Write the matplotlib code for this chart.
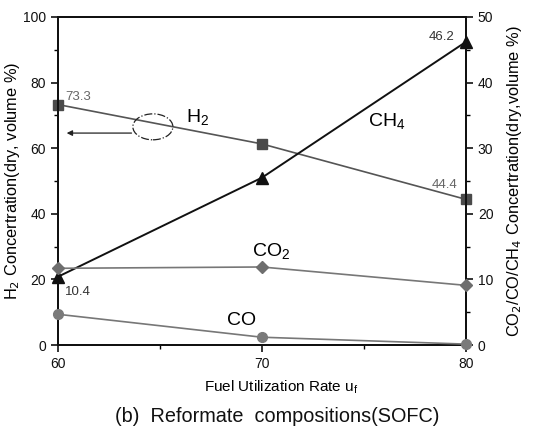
import matplotlib
matplotlib.use("Agg")
import matplotlib.pyplot as plt
from matplotlib.patches import Ellipse
from matplotlib.ticker import MultipleLocator

plt.rcParams['font.family'] = ['Liberation Sans', 'DejaVu Sans']

uf = [60, 70, 80]
h2 = [73.3, 61.3, 44.4]     # left axis
ch4 = [10.4, 25.5, 46.2]    # right axis
co2 = [11.7, 11.9, 9.1]
co = [4.7, 1.2, 0.15]

fig = plt.figure(figsize=(5.45, 4.33), dpi=100)
ax = fig.add_axes([0.106, 0.203, 0.749, 0.758])
ax2 = ax.twinx()

ax.plot(uf, h2, color='#555555', lw=1.2, marker='s', ms=7, mfc='#4a4a4a', mec='#4a4a4a',
        zorder=3, clip_on=False)
ax2.plot(uf, ch4, color='#111111', lw=1.4, marker='^', ms=8, mfc='#111111', mec='#111111',
         zorder=3, clip_on=False)
ax2.plot(uf, co2, color='#777777', lw=1.2, marker='D', ms=6.5, mfc='#6e6e6e', mec='#6e6e6e',
         zorder=3, clip_on=False)
ax2.plot(uf, co, color='#777777', lw=1.2, marker='o', ms=7, mfc='#7a7a7a', mec='#7a7a7a',
         zorder=3, clip_on=False)

ax.set_xlim(60, 80)
ax.set_ylim(0, 100)
ax2.set_ylim(0, 50)
ax.set_xticks(uf)
ax.xaxis.set_minor_locator(MultipleLocator(5))
ax.yaxis.set_major_locator(MultipleLocator(20))
ax.yaxis.set_minor_locator(MultipleLocator(10))
ax2.yaxis.set_major_locator(MultipleLocator(10))
ax2.yaxis.set_minor_locator(MultipleLocator(5))
for a in (ax, ax2):
    a.tick_params(which='major', length=5, width=1.2, labelsize=10, colors='#111111')
    a.tick_params(which='minor', length=3, width=1.0)
    for s in a.spines.values():
        s.set_linewidth(1.4)
        s.set_color('#111111')

ax.set_ylabel('H$_2$ Concertration(dry, volume %)', fontsize=11.8)
ax2.set_ylabel('CO$_2$/CO/CH$_4$ Concertration(dry,volume %)', fontsize=11.8)
ax.yaxis.set_label_coords(-0.088, 0.5)
ax2.yaxis.set_label_coords(1.096, 0.5)
fig.text(0.516, 0.106, 'Fuel Utilization Rate u$_\\mathregular{f}$', fontsize=11,
         ha='center', va='center')

# value labels
ax.text(60.35, 74.7, '%.1f' % h2[0], fontsize=9.5, color='#666666')
ax.text(79.6, 47.9, '%.1f' % h2[2], fontsize=9.5, color='#666666', ha='right')
ax2.text(79.45, 46.5, '%.1f' % ch4[2], fontsize=9.5, color='#333333', ha='right')
ax2.text(60.35, 7.6, '%.1f' % ch4[0], fontsize=9.5, color='#333333')

# series names
ax.text(66.3, 67.7, 'H$_\\mathregular{2}$', fontsize=14)
ax2.text(75.2, 33.2, 'CH$_\\mathregular{4}$', fontsize=14)
ax2.text(69.5, 13.4, 'CO$_\\mathregular{2}$', fontsize=14)
ax2.text(68.3, 3.05, 'CO', fontsize=14)

# marker for the left axis series
ax.add_patch(Ellipse((64.66, 66.5), 1.96, 7.9, fill=False, ls='-.', lw=0.9, color='#222222', zorder=4))
ax.annotate('', xy=(60.3, 64.6), xytext=(63.75, 64.6),
            arrowprops=dict(arrowstyle='-|>', color='#222222', lw=0.9, mutation_scale=8))

fig.text(0.509, 0.037, '(b)  Reformate  compositions(SOFC)', ha='center', va='center',
         fontsize=14.3, color='#111111')

fig.savefig('out.png', dpi=100)
